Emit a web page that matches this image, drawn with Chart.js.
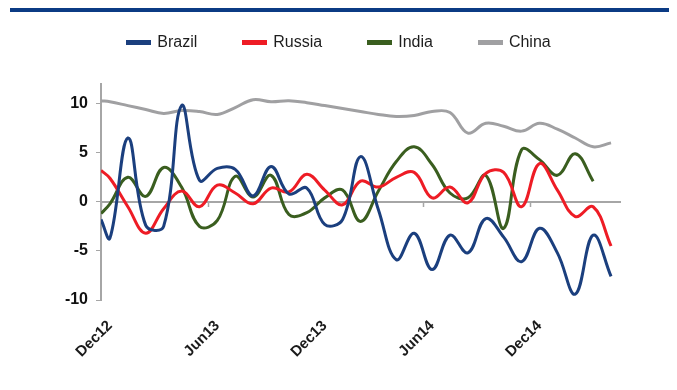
<!DOCTYPE html>
<html>
<head>
<meta charset="utf-8">
<script src="https://cdn.jsdelivr.net/npm/chart.js@4.4.1/dist/chart.umd.min.js"></script>
<style>
    html, body { margin: 0; padding: 0; background: #fff; }
    #wrap { position: relative; width: 677px; height: 390px; overflow: hidden; }
    #topbar { position: absolute; left: 10px; top: 8px; width: 659px; height: 4px; background: #0b3b84; }
    #legend {
        position: absolute; left: 0; top: 33px; width: 677px;
        display: flex; justify-content: center; gap: 45px;
        font: 16px "Liberation Sans", Arial, sans-serif; color: #1e1e1e; line-height: 18px;
    }
    #legend .item { display: flex; align-items: center; }
    #legend .swatch { width: 25px; height: 5px; margin-right: 6px; }
    canvas { position: absolute; left: 0; top: 0; }
</style>
</head>
<body>
<div id="wrap">
    <div id="topbar"></div>
    <canvas id="chart" width="677" height="390"></canvas>
    <div id="legend"></div>
</div>
<script>
// Monthly categories (Dec12 .. Apr15); first value of each series sits on the y axis
const months = ['Dec12', 'Jan13', 'Feb13', 'Mar13', 'Apr13', 'May13', 'Jun13', 'Jul13', 'Aug13', 'Sep13',
    'Oct13', 'Nov13', 'Dec13', 'Jan14', 'Feb14', 'Mar14', 'Apr14', 'May14', 'Jun14', 'Jul14',
    'Aug14', 'Sep14', 'Oct14', 'Nov14', 'Dec14', 'Jan15', 'Feb15', 'Mar15', 'Apr15'];
const tickMonths = [0, 6, 12, 18, 24];
const tickLabels = ['Dec12', 'Jun13', 'Dec13', 'Jun14', 'Dec14'];
const yTicks = [-10, -5, 0, 5, 10];

const seriesNames = ['Brazil', 'Russia', 'India', 'China'];
const seriesColors = ['#1b3f7e', '#ee1c25', '#3a5e1f', '#a0a0a2'];

const brazil = [-1.8, -3.7, 6.5, -2.4, -2.5, 9.8, 2.2, 3.4, 3.3, 0.6, 3.6, 0.8, 1.4, -2.3, -1.8,
    4.6, -0.8, -5.9, -3.2, -6.9, -3.4, -5.2, -1.7, -3.6, -6.1, -2.7, -5.2, -9.4, -3.4, -7.6];
const russia = [3.2, 2.4, -0.5, -3.2, -0.7, 1.1, -0.5, 1.7, 0.9, -0.2, 1.4, 1.0, 2.8, 1.2, -0.3,
    2.1, 1.5, 2.5, 3.0, 0.4, 1.5, -0.1, 2.9, 3.0, -0.5, 3.9, 1.2, -1.5, -0.5, -4.5];
const india = [-1.2, -0.2, 2.5, 0.55, 3.5, 1.5, -2.5, -1.9, 2.6, 0.5, 2.7, -1.3, -1.1, 0.4, 1.2,
    -2.0, 1.1, 4.1, 5.6, 3.8, 0.9, 0.4, 2.7, -2.7, 5.3, 4.3, 2.7, 4.9, 2.1];
const china = [10.3, 10.2, 9.8, 9.4, 9.0, 9.3, 9.2, 8.9, 9.6, 10.4, 10.2, 10.3, 10.1, 9.8, 9.5,
    9.2, 8.9, 8.7, 8.8, 9.2, 9.1, 7.0, 8.0, 7.7, 7.2, 8.0, 7.4, 6.5, 5.6, 6.0];

Chart.defaults.font.family = "'Liberation Sans', Arial, sans-serif";
Chart.defaults.color = '#111';

const axisGray = '#a6a6a6';

// axis start, then the middle of each month slot
function toPoints(values) {
    return values.map((v, i) => ({ x: i === 0 ? 0 : i - 0.5, y: v }));
}

const datasets = [brazil, russia, india, china].map((vals, i) => ({
    label: seriesNames[i],
    data: toPoints(vals),
    borderColor: seriesColors[i],
    backgroundColor: seriesColors[i],
    borderWidth: 3,
    pointRadius: 0,
    tension: 0.4,
    fill: false
}));

const setTicks = list => scale => { scale.ticks = list.map(v => ({ value: v })); };

new Chart(document.getElementById('chart'), {
    type: 'line',
    data: { datasets: datasets },
    options: {
        responsive: false,
        animation: false,
        devicePixelRatio: 1,
        layout: { padding: { left: 0, right: 57, top: 84, bottom: 0 } },
        plugins: { legend: { display: false }, tooltip: { enabled: false } },
        scales: {
            x: {
                type: 'linear',
                position: { y: 0 },
                min: 0,
                max: months.length,
                afterBuildTicks: setTicks(tickMonths),
                ticks: { display: false },
                grid: { drawOnChartArea: false, drawTicks: true, tickLength: 4, tickColor: axisGray, tickWidth: 1.5, color: axisGray },
                border: { display: true, color: axisGray, width: 2 }
            },
            x2: {
                type: 'linear',
                axis: 'x',
                position: 'bottom',
                min: -0.5,
                max: months.length - 0.5,
                afterBuildTicks: setTicks(tickMonths),
                afterFit: s => { s.height = 90; },
                ticks: {
                    autoSkip: false,
                    minRotation: 45,
                    maxRotation: 45,
                    padding: 17,
                    color: '#1a1a1a',
                    font: { size: 15, weight: 'bold' },
                    callback: (v, i) => tickLabels[i]
                },
                grid: { display: false, drawTicks: false },
                border: { display: false }
            },
            y: {
                type: 'linear',
                min: -10,
                max: 12,
                afterBuildTicks: setTicks(yTicks),
                afterFit: s => { s.width = 101; },
                ticks: { padding: 8, color: '#111', font: { size: 16, weight: 'bold' } },
                grid: { drawOnChartArea: false, tickLength: 5, tickColor: axisGray, color: axisGray },
                border: { color: axisGray, width: 2 }
            }
        }
    }
});

// Legend built from the series names and colours
const legend = document.getElementById('legend');
seriesNames.forEach((name, i) => {
    const item = document.createElement('div');
    item.className = 'item';
    item.innerHTML = '<span class="swatch" style="background:' + seriesColors[i] + '"></span><span>' + name + '</span>';
    legend.appendChild(item);
});
</script>
</body>
</html>
